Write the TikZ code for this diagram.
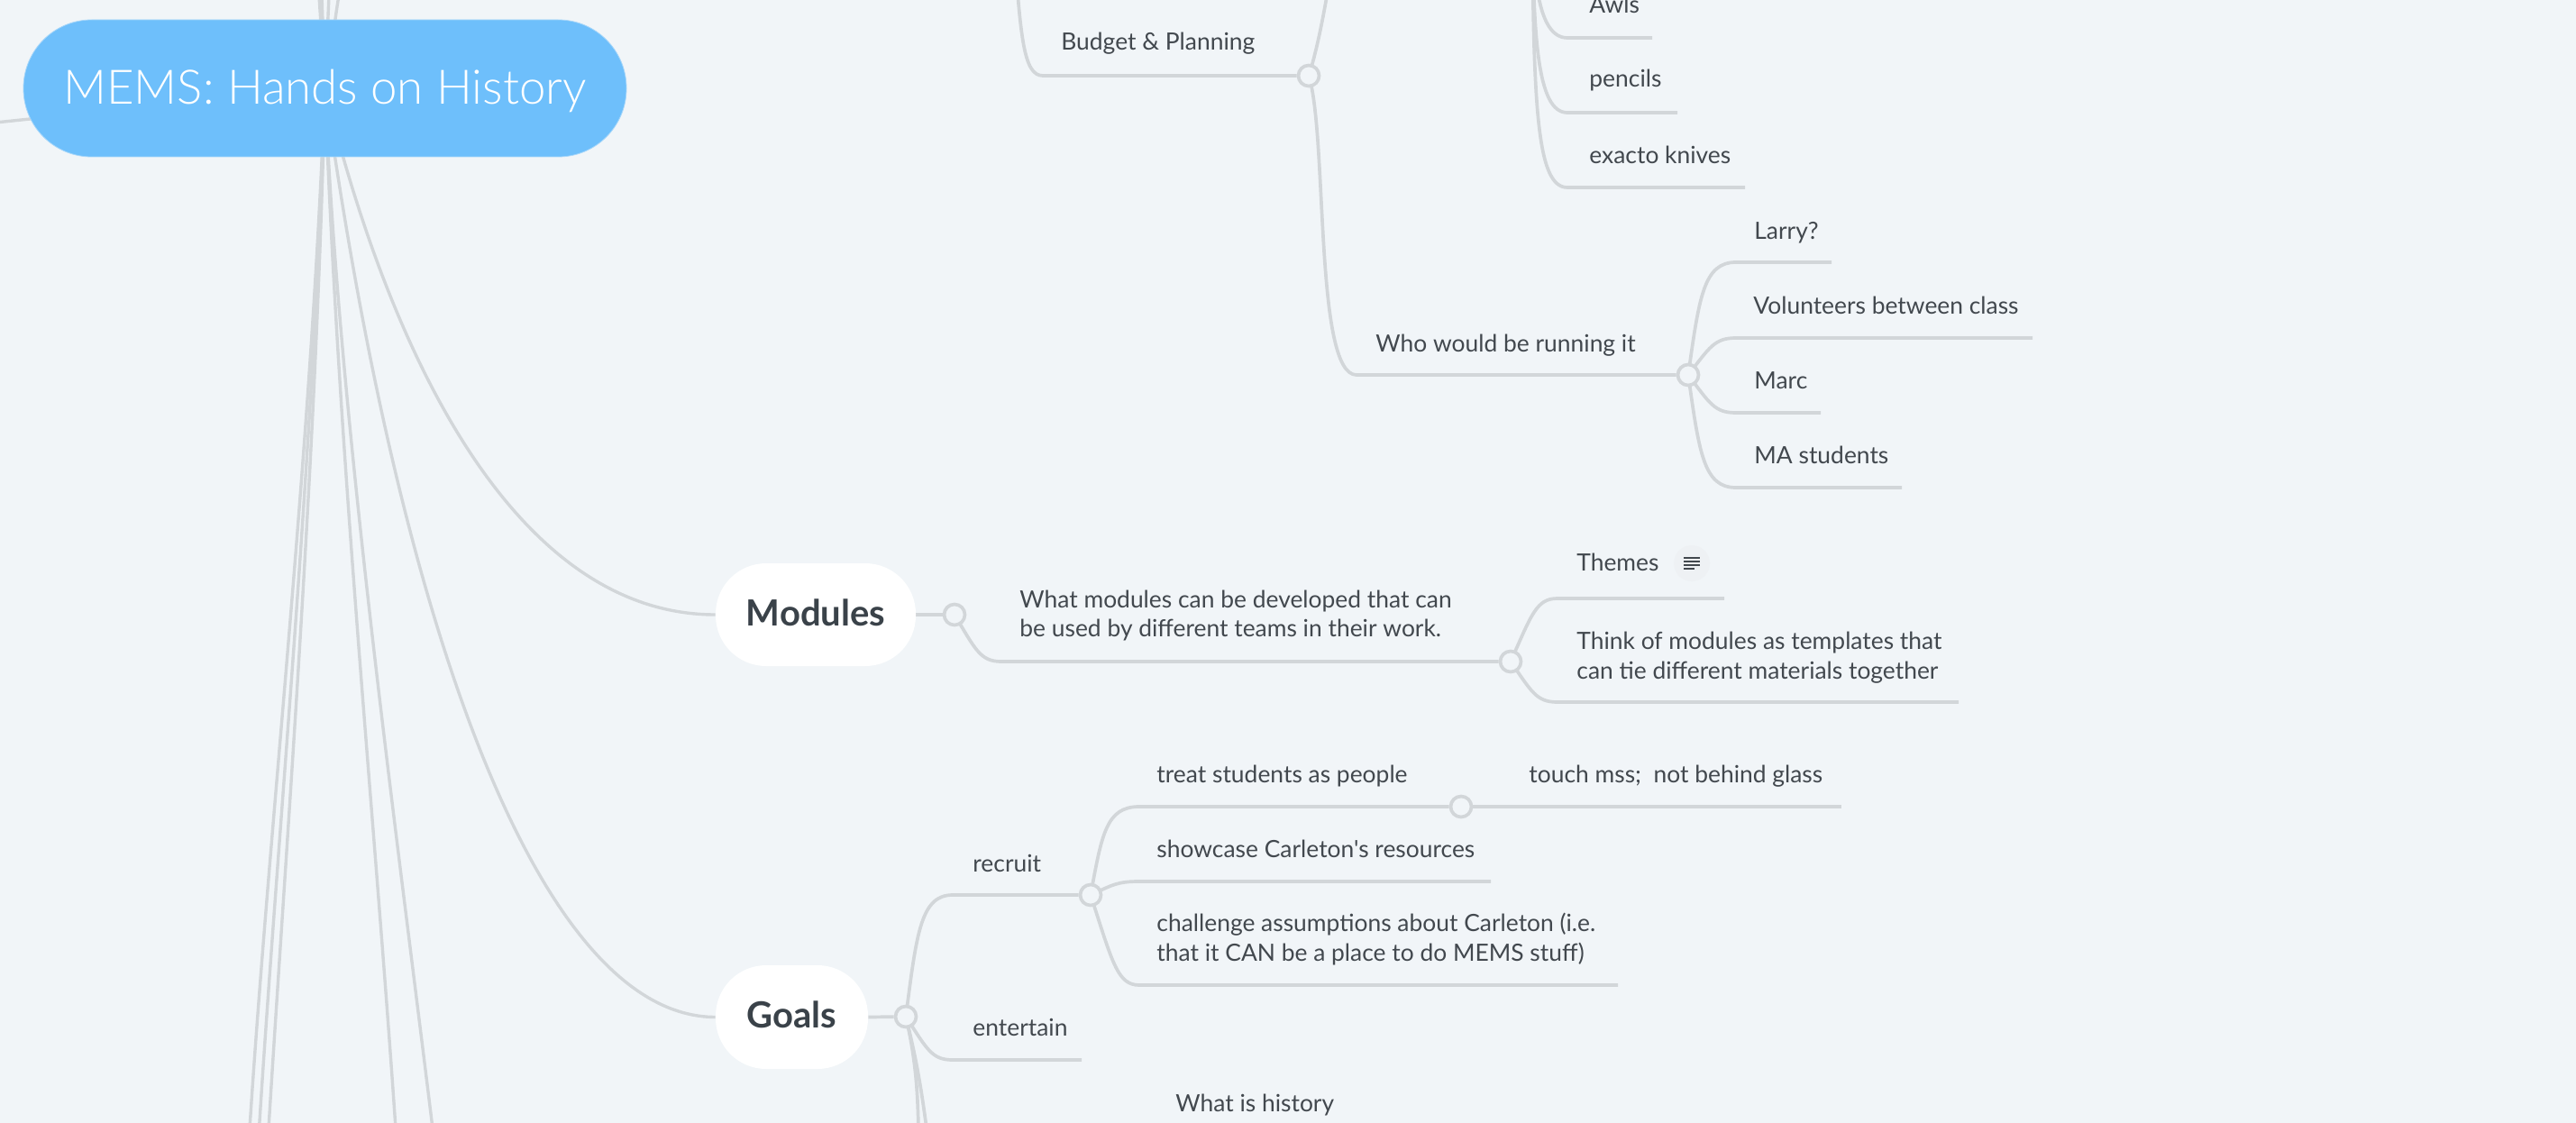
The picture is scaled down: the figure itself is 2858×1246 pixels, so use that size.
\documentclass[tikz,border=0pt]{standalone}
\usepackage{fontspec}
\setmainfont[Ligatures=TeXOff]{Lato}
\newfontfamily\rootfont[UprightFont=* Light]{Lato}
\usetikzlibrary{calc}
\pgfdeclarelayer{bg}
\pgfsetlayers{bg,main}
\definecolor{pagebg}{HTML}{F1F5F8}
\definecolor{linecol}{HTML}{D2D6D9}
\definecolor{rootcol}{HTML}{6EBFFB}
\definecolor{rootedge}{HTML}{A6D6FA}
\definecolor{txtcol}{HTML}{42484E}
\definecolor{boldcol}{HTML}{3A4249}
\definecolor{iconbg}{HTML}{EEF1F4}
\tikzset{
  conn/.style={draw=linecol,line width=1.85pt,line join=round},
  rootconn/.style={draw=linecol,line width=1.7pt},
  lbl/.style={inner sep=0pt,anchor=base west,text=txtcol,font=\fontsize{13.2}{16.5}\selectfont,align=left},
  hub/.style={circle,draw=linecol,fill=pagebg,line width=1.85pt,minimum size=11.5pt,inner sep=0pt},
  topic/.style={fill=white,inner sep=0pt,text=boldcol,font=\fontsize{20}{24}\selectfont\bfseries,text height=15pt,text depth=3pt},
  rootnode/.style={fill=rootcol,draw=rootedge,line width=.4pt,inner sep=0pt,text=white,font=\fontsize{26.4}{32}\selectfont\rootfont,text height=21pt,text depth=3pt,minimum width=334.5pt,minimum height=76pt,rounded corners=37.9pt}
}
% hub, knee, far end of the underline: long steep branch
\newcommand{\mbranch}[3]{\draw[conn] let \p1=(#1.center),\p2=(#2),\n1={\x2-\x1},\n2={\y2-\y1} in (#1.center) .. controls ($(\p1)+(0.23*\n1,0.69*\n2)$) and ($(\p1)+(0.32*\n1,\n2)$) .. (\p2) -- (#3);}
% hub, knee, far end of the underline: short diagonal branch
\newcommand{\sbranch}[3]{\draw[conn] let \p1=(#1.center),\p2=(#2),\n1={\x2-\x1},\n2={\y2-\y1} in (#1.center) .. controls ($(\p1)+(0.45*\n1,0.75*\n2)$) and ($(\p1)+(0.55*\n1,\n2)$) .. (\p2) -- (#3);}
\begin{document}
\begin{tikzpicture}[x=0.5pt,y=-0.5pt]
\useasboundingbox (0,0) rectangle (2858,1246);
\clip (0,0) rectangle (2858,1246);
% topics
\node[rootnode] (root) at (360.5,98) {MEMS: Hands on History};
\node[topic,minimum width=111pt,minimum height=57pt,rounded corners=28pt] (modules) at (905,682) {Modules};
\node[topic,minimum width=84.5pt,minimum height=57.5pt,rounded corners=28pt] (goals) at (878.5,1128.5) {Goals};
% hubs
\node[hub] (hbudget) at (1452,84) {};
\node[hub] (hwho) at (1873,416) {};
\node[hub] (hmod) at (1059,682) {};
\node[hub] (hdev) at (1676,734) {};
\node[hub] (hgoals) at (1005,1128) {};
\node[hub] (hrecruit) at (1210,993) {};
\node[hub] (htreat) at (1621,895) {};
% knees and free ends
\coordinate (upperhub) at (1700,-100);
\coordinate (budgetparent) at (1125,-60);
\coordinate (kbudget) at (1157,84);
\coordinate (outup) at (1473,-10);
\coordinate (kwho) at (1505,416);
\coordinate (kawls) at (1739,42);    \coordinate (eawls) at (1833,42);
\coordinate (kpencils) at (1739,125);\coordinate (epencils) at (1861,125);
\coordinate (kknives) at (1739,208); \coordinate (eknives) at (1936,208);
\coordinate (klarry) at (1926,291);  \coordinate (elarry) at (2032,291);
\coordinate (kvol) at (1926,375);    \coordinate (evol) at (2255,375);
\coordinate (kmarc) at (1926,458);   \coordinate (emarc) at (2020,458);
\coordinate (kma) at (1926,541);     \coordinate (ema) at (2110,541);
\coordinate (kdev) at (1111,734);
\coordinate (kthemes) at (1728,664); \coordinate (ethemes) at (1913,664);
\coordinate (kthink) at (1728,779);  \coordinate (ethink) at (2173,779);
\coordinate (ktreat) at (1264,895);  \coordinate (etreat) at (2043,895);
\coordinate (kshow) at (1264,978);   \coordinate (eshow) at (1654,978);
\coordinate (kchal) at (1264,1093);  \coordinate (echal) at (1795,1093);
\coordinate (krec) at (1057,993);
\coordinate (kent) at (1057,1176);   \coordinate (eent) at (1200,1176);
\coordinate (goalsdowna) at (1019,1252);
\coordinate (goalsdownb) at (1028,1252);
\coordinate (rootleft) at (-10,136.5);
\coordinate (roottopa) at (354,-5);
\coordinate (roottopb) at (357,-5);
\coordinate (roottopc) at (365,-5);
\coordinate (roottopd) at (376,-5);
\coordinate (rootdowna) at (277,1252);
\coordinate (rootdownb) at (287.5,1252);
\coordinate (rootdownc) at (298,1252);
\coordinate (rootdownd) at (439,1252);
\coordinate (rootdowne) at (480,1252);
% labels
\node[lbl] (tbudget) at (1177,56) {Budget \& Planning};
\node[lbl] (tawls) at (1763,15) {Awls};
\node[lbl] (tpencils) at (1763,97) {pencils};
\node[lbl] (tknives) at (1763,182) {exacto knives};
\node[lbl] (twho) at (1526,390) {Who would be running it};
\node[lbl] (tlarry) at (1946,265) {Larry?};
\node[lbl] (tvol) at (1945,348) {Volunteers between class};
\node[lbl] (tmarc) at (1946,431) {Marc};
\node[lbl] (tma) at (1946,514) {MA students};
\node[lbl] (tdev1) at (1131,674) {What modules can be developed that can};
\node[lbl] (tdev2) at (1131,706) {be used by different teams in their work.};
\node[lbl] (tthemes) at (1749,633) {Themes};
\node[lbl] (tthink1) at (1749,720) {Think of modules as templates that};
\node[lbl] (tthink2) at (1749,753) {can tie different materials together};
\node[lbl] (ttreat) at (1283,868) {treat students as people};
\node[lbl] (ttouch) at (1696,868) {touch mss;\ \ not behind glass};
\node[lbl] (tshow) at (1283,951) {showcase Carleton's resources};
\node[lbl] (tchal1) at (1283,1033) {challenge assumptions about Carleton (i.e.};
\node[lbl] (tchal2) at (1283,1066) {that it CAN be a place to do MEMS stuff)};
\node[lbl] (trec) at (1079,967) {recruit};
\node[lbl] (tent) at (1079,1149) {entertain};
\node[lbl] (thist) at (1304,1233) {What is history};
% note icon
\node[circle,fill=iconbg,minimum size=20pt,inner sep=0pt] (noteicon) at (1877,625) {};
\draw[txtcol,line width=1pt] (1868,619) -- (1886,619) (1868,623) -- (1886,623) (1868,627) -- (1886,627) (1868,631) -- (1880,631);
% connectors
\begin{pgfonlayer}{bg}
\fill[pagebg] (0,0) rectangle (2858,1246);
\draw[rootconn] (root.center) -- (rootleft);
\draw[rootconn] (root.center) -- (roottopa);
\draw[rootconn] (root.center) -- (roottopb);
\draw[rootconn] (root.center) -- (roottopc);
\draw[rootconn] (root.center) .. controls (368,60) and (370,30) .. (roottopd);
\draw[rootconn] (root.center) .. controls (345,500) and (300,900) .. (rootdowna);
\draw[rootconn] (root.center) .. controls (348,500) and (310,900) .. (rootdownb);
\draw[rootconn] (root.center) .. controls (351,500) and (320,900) .. (rootdownc);
\draw[rootconn] (root.center) .. controls (375,500) and (415,900) .. (rootdownd);
\draw[rootconn] (root.center) .. controls (375,450) and (437,900) .. (rootdowne);
\draw[rootconn] (root.center) .. controls (445,705) and (600,1128) .. (goals.west);
\draw[rootconn] (root.center) .. controls (438,415) and (580,682) .. (modules.west);
\draw[conn] (modules.east) -- (hmod);
\draw[conn] (goals.east) -- (hgoals);
% budget
\mbranch{budgetparent}{kbudget}{hbudget}
\draw[conn] (hbudget.center) .. controls (1460,60) and (1468,20) .. (outup);
\draw[conn] (hbudget.center) .. controls (1473,150) and (1458,416) .. (kwho) -- (hwho);
\draw[conn] (upperhub) .. controls (1701,-30) and (1705,42) .. (kawls) -- (eawls);
\draw[conn] (upperhub) .. controls (1701,40) and (1705,125) .. (kpencils) -- (epencils);
\draw[conn] (upperhub) .. controls (1701,120) and (1705,208) .. (kknives) -- (eknives);
\mbranch{hwho}{klarry}{elarry}
\sbranch{hwho}{kvol}{evol}
\sbranch{hwho}{kmarc}{emarc}
\mbranch{hwho}{kma}{ema}
% modules
\sbranch{hmod}{kdev}{hdev}
\sbranch{hdev}{kthemes}{ethemes}
\sbranch{hdev}{kthink}{ethink}
% goals
\mbranch{hgoals}{krec}{hrecruit}
\sbranch{hgoals}{kent}{eent}
\draw[conn] (hgoals.center) .. controls (1017,1180) and (1018,1215) .. (goalsdowna);
\draw[conn] (hgoals.center) .. controls (1018,1180) and (1023,1215) .. (goalsdownb);
\mbranch{hrecruit}{ktreat}{htreat}
\sbranch{hrecruit}{kshow}{eshow}
\sbranch{hrecruit}{kchal}{echal}
\draw[conn] (htreat) -- (etreat);
\end{pgfonlayer}
\end{tikzpicture}
\end{document}
